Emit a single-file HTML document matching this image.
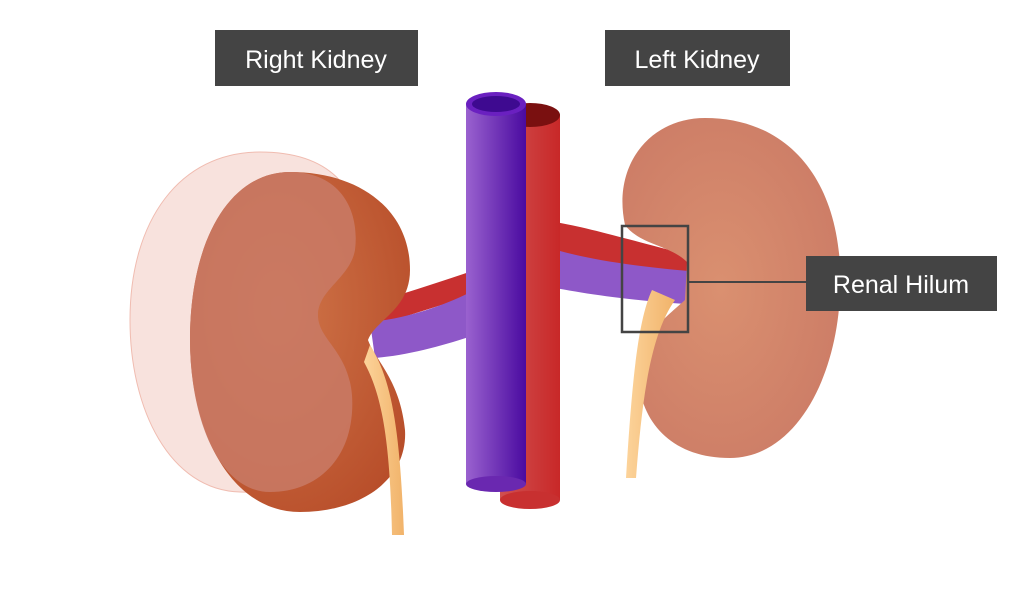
<!DOCTYPE html>
<html><head><meta charset="utf-8"><style>
html,body{margin:0;padding:0;background:#fff;}
svg{display:block;}
text{font-family:"Liberation Sans",sans-serif;}
</style></head><body>
<svg width="1024" height="597" viewBox="0 0 1024 597" xmlns="http://www.w3.org/2000/svg">
<defs>
<linearGradient id="vc" x1="0" x2="1"><stop offset="0" stop-color="#9a62cf"/><stop offset="1" stop-color="#4a0aa0"/></linearGradient>
<linearGradient id="ao" x1="0" x2="1"><stop offset="0" stop-color="#d05050"/><stop offset="1" stop-color="#c82828"/></linearGradient>
<radialGradient id="rk" cx="0.4" cy="0.4" r="0.7"><stop offset="0" stop-color="#d0764a"/><stop offset="1" stop-color="#b84e2a"/></radialGradient>
<radialGradient id="lk" cx="0.45" cy="0.5" r="0.6"><stop offset="0" stop-color="#da9070"/><stop offset="1" stop-color="#cc7c66"/></radialGradient>
<linearGradient id="ur" x1="0" x2="1"><stop offset="0" stop-color="#fcd39a"/><stop offset="1" stop-color="#f1b36a"/></linearGradient>
</defs>
<!-- left kidney vessels -->
<path d="M555 222 C590 228 630 240 700 258 L700 285 C630 272 590 262 555 250Z" fill="#c83030"/>
<path d="M540 245 C580 258 620 265 700 272 L700 305 C620 300 575 292 540 285Z" fill="#8e58c8"/>
<!-- right kidney vessels -->
<path d="M365 305 C400 295 440 282 475 270 L475 295 C440 305 400 318 365 330Z" fill="#c83030"/>
<path d="M370 322 C410 318 445 305 475 290 L475 335 C445 345 410 355 375 358Z" fill="#8e58c8"/>
<!-- left kidney -->
<path d="M705 118 C785 118 835 175 840 265 C845 365 800 458 730 458 C670 458 638 420 638 370 C638 338 665 318 685 300 L687 262 C670 245 640 245 625 225 C612 165 650 118 705 118Z" fill="url(#lk)"/>
<path d="M652 290 C638 320 632 380 626 478 L636 478 C642 400 650 335 675 300Z" fill="url(#ur)"/>
<!-- right kidney translucent -->
<path d="M260 152 C330 152 362 190 358 240 C350 300 330 360 340 420 C345 470 300 494 240 492 C170 490 130 410 130 320 C130 220 180 152 260 152Z" fill="#f6d6d0" opacity="0.7" stroke="#eaa090" stroke-width="1"/>
<!-- right kidney -->
<path d="M290 172 C360 172 410 210 410 270 C410 310 375 320 368 340 C375 360 400 380 405 430 C408 480 360 512 300 512 C230 512 190 430 190 340 C190 240 230 172 290 172Z" fill="url(#rk)"/>
<path d="M290 172 C340 172 360 210 355 250 C350 278 318 290 318 315 C318 340 348 350 352 395 C356 455 320 492 270 492 C220 492 190 420 190 340 C190 240 230 172 290 172Z" fill="#c97a66" opacity="0.85"/>
<path d="M370 345 C392 380 400 430 404 535 L392 535 C390 440 382 395 364 362Z" fill="url(#ur)"/>
<!-- vena cava / aorta -->
<rect x="500" y="115" width="60" height="385" fill="url(#ao)"/>
<ellipse cx="530" cy="500" rx="30" ry="9" fill="#c83030"/>
<ellipse cx="530" cy="115" rx="30" ry="12" fill="#7a1010"/>
<rect x="466" y="104" width="60" height="380" fill="url(#vc)"/>
<ellipse cx="496" cy="484" rx="30" ry="8" fill="#6a28b0"/>
<ellipse cx="496" cy="104" rx="30" ry="12" fill="#6a20c0"/>
<ellipse cx="496" cy="104" rx="24" ry="8" fill="#3e0a90"/>
<!-- hilum box -->
<rect x="622" y="226" width="66" height="106" fill="none" stroke="#444" stroke-width="2.5"/>
<line x1="688" y1="282" x2="806" y2="282" stroke="#444" stroke-width="2"/>
<!-- labels -->
<rect x="215" y="30" width="203" height="56" fill="#444"/>
<text x="316" y="68" fill="#fff" font-size="25" text-anchor="middle">Right Kidney</text>
<rect x="605" y="30" width="185" height="56" fill="#444"/>
<text x="697" y="68" fill="#fff" font-size="25" text-anchor="middle">Left Kidney</text>
<rect x="806" y="256" width="191" height="55" fill="#444"/>
<text x="901" y="293" fill="#fff" font-size="25" text-anchor="middle">Renal Hilum</text>
</svg>
</body></html>
